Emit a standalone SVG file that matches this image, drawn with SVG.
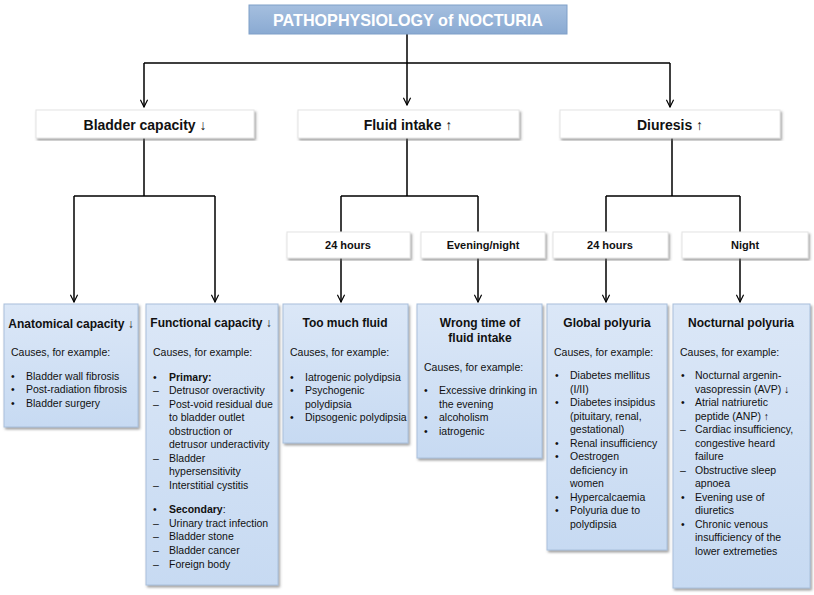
<svg xmlns="http://www.w3.org/2000/svg" width="814" height="595" viewBox="0 0 814 595">
<defs>
<linearGradient id="blue" x1="0" y1="0" x2="0" y2="1"><stop offset="0" stop-color="#dbe7f7"/><stop offset="1" stop-color="#c7daf2"/></linearGradient>
<linearGradient id="tg" x1="0" y1="0" x2="0" y2="1"><stop offset="0" stop-color="#a5bfdf"/><stop offset="1" stop-color="#8aaad2"/></linearGradient>
<marker id="ar" viewBox="0 0 10 10" refX="9" refY="5" markerWidth="9" markerHeight="9" orient="auto" markerUnits="userSpaceOnUse"><path d="M1,1 L9,5 L1,9" fill="none" stroke="#000" stroke-width="1.3"/></marker>
<filter id="sh" x="-5%" y="-5%" width="115%" height="115%"><feDropShadow dx="1.5" dy="2" stdDeviation="1" flood-color="#666" flood-opacity="0.6"/></filter>
</defs>
<style>
text{font-family:"Liberation Sans",Arial,sans-serif;fill:#111}
.b{fill:url(#blue);stroke:#a9c0dc;stroke-width:1;filter:url(#sh)}
.w{fill:#fff;stroke:#e4e4e4;stroke-width:1;filter:url(#sh)}
.h{font-size:12px;font-weight:bold;text-anchor:middle}
.l2{font-size:14px;font-weight:bold;text-anchor:middle}
.s{font-size:11px;font-weight:bold;text-anchor:middle}
.t{font-size:10.5px}
.c{stroke:#000;stroke-width:1.5;fill:none}
</style>
<g id="connectors">
<path class="c" d="M407,34 V63 M144,63 H670"/>
<path class="c" d="M144,63 V107" marker-end="url(#ar)"/>
<path class="c" d="M407,63 V105" marker-end="url(#ar)"/>
<path class="c" d="M670,63 V107" marker-end="url(#ar)"/>
<path class="c" d="M144,138 V196 M74,196 H215 M407,138 V196 M341,196 H478 M672,138 V196 M606,196 H740 M341,196 V232 M478,196 V232 M606,196 V232 M740,196 V232"/>
<path class="c" d="M74,196 V302" marker-end="url(#ar)"/>
<path class="c" d="M215,196 V302" marker-end="url(#ar)"/>
<path class="c" d="M341,258 V302" marker-end="url(#ar)"/>
<path class="c" d="M478,258 V302" marker-end="url(#ar)"/>
<path class="c" d="M606,258 V302" marker-end="url(#ar)"/>
<path class="c" d="M740,258 V302" marker-end="url(#ar)"/>
</g>
<g id="title"><rect x="249" y="5" width="318" height="29" fill="url(#tg)" stroke="#7f9fc8"/><text x="408" y="26" text-anchor="middle" style="font-size:17px;font-weight:bold;fill:#fff" textLength="270" lengthAdjust="spacingAndGlyphs">PATHOPHYSIOLOGY of NOCTURIA</text></g>
<g id="bladder"><rect class="w" x="36" y="110" width="218" height="28"/><text class="l2" x="145" y="130">Bladder capacity ↓</text></g>
<g id="fluid"><rect class="w" x="298" y="110" width="221" height="28"/><text class="l2" x="408" y="130">Fluid intake ↑</text></g>
<g id="diuresis"><rect class="w" x="560" y="110" width="220" height="28"/><text class="l2" x="670" y="130">Diuresis ↑</text></g>
<g id="fi24"><rect class="w" x="287" y="232" width="123" height="26"/><text class="s" x="348" y="249">24 hours</text></g>
<g id="evening"><rect class="w" x="421" y="232" width="124" height="26"/><text class="s" x="483" y="249">Evening/night</text></g>
<g id="di24"><rect class="w" x="553" y="232" width="115" height="26"/><text class="s" x="610" y="249">24 hours</text></g>
<g id="night"><rect class="w" x="682" y="232" width="126" height="26"/><text class="s" x="745" y="249">Night</text></g>
<g id="anatomical"><rect class="b" x="4" y="304" width="134" height="123"/>
<text class="h" x="71" y="328">Anatomical capacity ↓</text>
<text class="t" x="11" y="356">Causes, for example:</text>
<g class="t"><text class="t" x="11" y="380">•</text><text class="t" x="26" y="380">Bladder wall fibrosis</text>
<text class="t" x="11" y="393">•</text><text class="t" x="26" y="393">Post-radiation fibrosis</text>
<text class="t" x="11" y="407">•</text><text class="t" x="26" y="407">Bladder surgery</text></g></g>
<g id="functional"><rect class="b" x="146" y="304" width="132" height="281"/>
<text class="h" x="211" y="327">Functional capacity ↓</text>
<text class="t" x="153" y="356">Causes, for example:</text>
<text class="t" x="153" y="381">•</text><text class="t" x="169" y="381" font-weight="bold">Primary:</text>
<text class="t" x="153" y="394">–</text><text class="t" x="169" y="394">Detrusor overactivity</text>
<text class="t" x="153" y="408">–</text><text class="t" x="169" y="408">Post-void residual due</text>
<text class="t" x="169" y="421">to bladder outlet</text>
<text class="t" x="169" y="435">obstruction or</text>
<text class="t" x="169" y="448">detrusor underactivity</text>
<text class="t" x="153" y="462">–</text><text class="t" x="169" y="462">Bladder</text>
<text class="t" x="169" y="475">hypersensitivity</text>
<text class="t" x="153" y="489">–</text><text class="t" x="169" y="489">Interstitial cystitis</text>
<text class="t" x="153" y="513">•</text><text class="t" x="169" y="513"><tspan font-weight="bold">Secondary</tspan>:</text>
<text class="t" x="153" y="527">–</text><text class="t" x="169" y="527">Urinary tract infection</text>
<text class="t" x="153" y="540">–</text><text class="t" x="169" y="540">Bladder stone</text>
<text class="t" x="153" y="554">–</text><text class="t" x="169" y="554">Bladder cancer</text>
<text class="t" x="153" y="568">–</text><text class="t" x="169" y="568">Foreign body</text></g>
<g id="toomuch"><rect class="b" x="283" y="304" width="125" height="139"/>
<text class="h" x="345" y="327">Too much fluid</text>
<text class="t" x="290" y="356">Causes, for example:</text>
<text class="t" x="290" y="381">•</text><text class="t" x="305" y="381">Iatrogenic polydipsia</text>
<text class="t" x="290" y="394">•</text><text class="t" x="305" y="394">Psychogenic</text>
<text class="t" x="305" y="408">polydipsia</text>
<text class="t" x="290" y="421">•</text><text class="t" x="305" y="421">Dipsogenic polydipsia</text></g>
<g id="wrongtime"><rect class="b" x="417" y="304" width="125" height="154"/>
<text class="h" x="480" y="327">Wrong time of</text>
<text class="h" x="480" y="342">fluid intake</text>
<text class="t" x="424" y="371">Causes, for example:</text>
<text class="t" x="424" y="394">•</text><text class="t" x="439" y="394">Excessive drinking in</text>
<text class="t" x="439" y="408">the evening</text>
<text class="t" x="424" y="421">•</text><text class="t" x="439" y="421">alcoholism</text>
<text class="t" x="424" y="435">•</text><text class="t" x="439" y="435">iatrogenic</text></g>
<g id="global"><rect class="b" x="547" y="304" width="120" height="246"/>
<text class="h" x="607" y="327">Global polyuria</text>
<text class="t" x="554" y="356">Causes, for example:</text>
<text class="t" x="555" y="379">•</text><text class="t" x="570" y="379">Diabetes mellitus</text>
<text class="t" x="570" y="393">(I/II)</text>
<text class="t" x="555" y="406">•</text><text class="t" x="570" y="406">Diabetes insipidus</text>
<text class="t" x="570" y="420">(pituitary, renal,</text>
<text class="t" x="570" y="433">gestational)</text>
<text class="t" x="555" y="447">•</text><text class="t" x="570" y="447">Renal insufficiency</text>
<text class="t" x="555" y="460">•</text><text class="t" x="570" y="460">Oestrogen</text>
<text class="t" x="570" y="474">deficiency in</text>
<text class="t" x="570" y="487">women</text>
<text class="t" x="555" y="501">•</text><text class="t" x="570" y="501">Hypercalcaemia</text>
<text class="t" x="555" y="514">•</text><text class="t" x="570" y="514">Polyuria due to</text>
<text class="t" x="570" y="528">polydipsia</text></g>
<g id="nocturnal"><rect class="b" x="673" y="304" width="137" height="284"/>
<text class="h" x="741" y="327">Nocturnal polyuria</text>
<text class="t" x="680" y="356">Causes, for example:</text>
<text class="t" x="681" y="379">•</text><text class="t" x="695" y="379">Nocturnal argenin-</text>
<text class="t" x="695" y="393">vasopressin (AVP) ↓</text>
<text class="t" x="681" y="406">•</text><text class="t" x="695" y="406">Atrial natriuretic</text>
<text class="t" x="695" y="420">peptide (ANP) ↑</text>
<text class="t" x="680" y="433">–</text><text class="t" x="695" y="433">Cardiac insufficiency,</text>
<text class="t" x="695" y="447">congestive heard</text>
<text class="t" x="695" y="460">failure</text>
<text class="t" x="680" y="474">–</text><text class="t" x="695" y="474">Obstructive sleep</text>
<text class="t" x="695" y="487">apnoea</text>
<text class="t" x="681" y="501">•</text><text class="t" x="695" y="501">Evening use of</text>
<text class="t" x="695" y="514">diuretics</text>
<text class="t" x="681" y="528">•</text><text class="t" x="695" y="528">Chronic venous</text>
<text class="t" x="695" y="541">insufficiency of the</text>
<text class="t" x="695" y="555">lower extremeties</text></g>
</svg>
